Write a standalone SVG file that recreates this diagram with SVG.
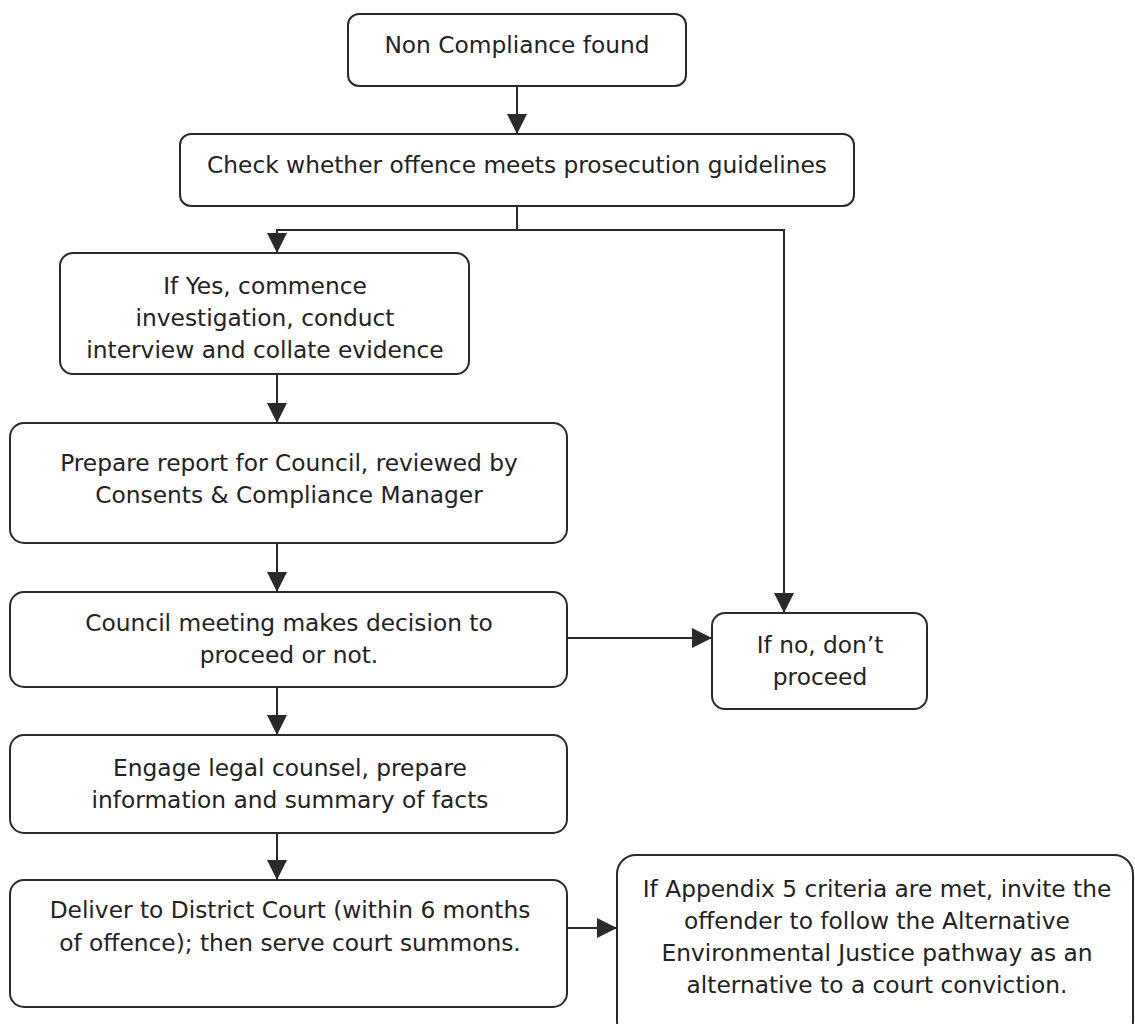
<svg xmlns="http://www.w3.org/2000/svg" width="1135" height="1024" viewBox="0 0 1135 1024">
<style>
.box{fill:#fff;stroke:#2a2a2a;stroke-width:2}
.t{font-family:"DejaVu Sans","Verdana",sans-serif;font-size:23.3px;fill:#222;text-anchor:middle}
.c{fill:none;stroke:#2a2a2a;stroke-width:2}
</style>
<defs>
<marker id="ah" markerUnits="userSpaceOnUse" markerWidth="20" markerHeight="20" refX="20" refY="10" orient="auto">
<path d="M0,0 L20,10 L0,20 z" fill="#2a2a2a"/>
</marker>
</defs>
<rect width="1135" height="1024" fill="#fff"/>
<g id="connectors">
<path class="c" d="M517,86 V134" marker-end="url(#ah)"/>
<path class="c" d="M517,206 V230 H277 V253" marker-end="url(#ah)"/>
<path class="c" d="M517,230 H784 V613" marker-end="url(#ah)"/>
<path class="c" d="M277,374 V423" marker-end="url(#ah)"/>
<path class="c" d="M277,543 V592" marker-end="url(#ah)"/>
<path class="c" d="M567,638 H712" marker-end="url(#ah)"/>
<path class="c" d="M277,687 V735" marker-end="url(#ah)"/>
<path class="c" d="M277,833 V880" marker-end="url(#ah)"/>
<path class="c" d="M567,928 H617" marker-end="url(#ah)"/>
</g>
<g id="n1"><rect class="box" x="348" y="14" width="338" height="72" rx="11"/>
<text class="t" x="517" y="53">Non Compliance found</text></g>
<g id="n2"><rect class="box" x="180" y="134" width="674" height="72" rx="11"/>
<text class="t" x="517" y="173">Check whether offence meets prosecution guidelines</text></g>
<g id="n3"><rect class="box" x="60" y="253" width="409" height="121" rx="13"/>
<text class="t" x="265" y="294">If Yes, commence</text>
<text class="t" x="265" y="326">investigation, conduct</text>
<text class="t" x="265" y="358">interview and collate evidence</text></g>
<g id="n4"><rect class="box" x="10" y="423" width="557" height="120" rx="14"/>
<text class="t" x="289" y="471">Prepare report for Council, reviewed by</text>
<text class="t" x="289" y="503">Consents &amp; Compliance Manager</text></g>
<g id="n5"><rect class="box" x="10" y="592" width="557" height="95" rx="14"/>
<text class="t" x="289" y="631">Council meeting makes decision to</text>
<text class="t" x="289" y="663">proceed or not.</text></g>
<g id="n6"><rect class="box" x="712" y="613" width="215" height="96" rx="13"/>
<text class="t" x="820" y="653">If no, don’t</text>
<text class="t" x="820" y="685">proceed</text></g>
<g id="n7"><rect class="box" x="10" y="735" width="557" height="98" rx="14"/>
<text class="t" x="290" y="776">Engage legal counsel, prepare</text>
<text class="t" x="290" y="808">information and summary of facts</text></g>
<g id="n8"><rect class="box" x="10" y="880" width="557" height="127" rx="14"/>
<text class="t" x="290" y="918">Deliver to District Court (within 6 months</text>
<text class="t" x="290" y="951">of offence); then serve court summons.</text></g>
<g id="n9"><rect class="box" x="617" y="855" width="516" height="185" rx="19"/>
<text class="t" x="877" y="897">If Appendix 5 criteria are met, invite the</text>
<text class="t" x="877" y="929">offender to follow the Alternative</text>
<text class="t" x="877" y="961">Environmental Justice pathway as an</text>
<text class="t" x="877" y="993">alternative to a court conviction.</text></g>
</svg>
